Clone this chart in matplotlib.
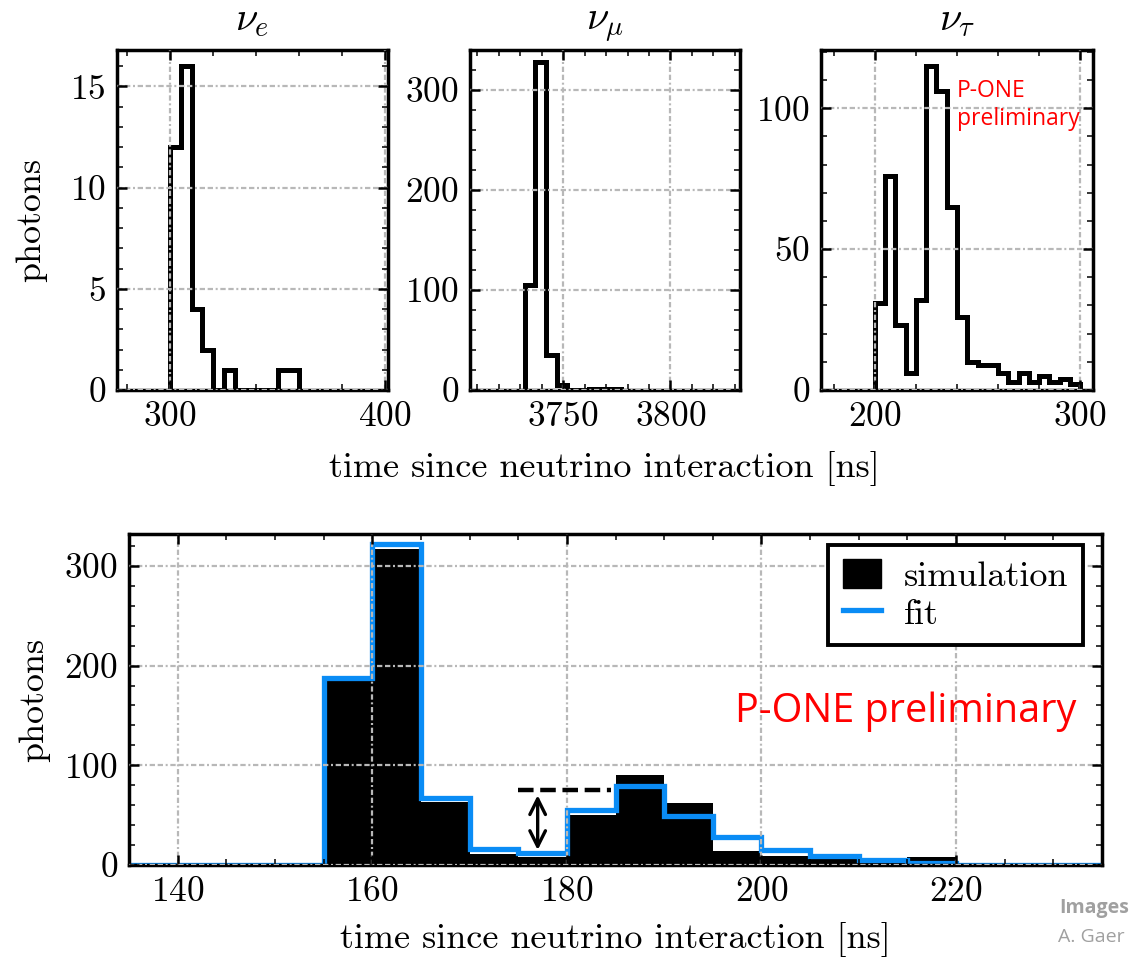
import matplotlib
matplotlib.use("Agg")
import matplotlib.pyplot as plt
from matplotlib.patches import Patch
from matplotlib.lines import Line2D
from matplotlib.ticker import MultipleLocator
import numpy as np

plt.rcParams["font.family"] = "serif"
plt.rcParams["font.serif"] = ["cmr10"]
plt.rcParams["mathtext.fontset"] = "cm"
plt.rcParams["axes.formatter.use_mathtext"] = True

# ---- per-flavour photon arrival-time histograms (5 ns bins) ----
nue_edges_start, nue_bin = 300, 5
nue_counts = [12, 16, 4, 2, 0, 1, 0, 0, 0, 0, 1, 1]

numu_edges_start, numu_bin = 3732, 5
numu_counts = [105, 328, 35, 5, 0, 0, 1, 1, 1]

nutau_edges_start, nutau_bin = 200, 5
nutau_counts = [31, 76, 23, 6, 32, 115, 106, 65, 26, 10, 9, 9, 6, 3, 6, 3, 5, 3, 4, 2]

flavour_titles = [r"$\nu_e$", r"$\nu_\mu$", r"$\nu_\tau$"]

# ---- combined waveform: simulation vs. fit ----
wave_edges_start, wave_bin = 135, 5
sim_counts = [0, 0, 0, 0, 186, 317, 63, 11, 8, 50, 90, 62, 14, 9, 6, 3, 8, 0, 0, 0]
fit_counts = [0, 0, 0, 0, 188, 322, 67, 16, 12, 55, 79, 49, 28, 15, 9, 5, 2, 0, 0, 0]

# gap marker between fit minimum and second peak
gap_level = 75
gap_low = 15
gap_high = 70
gap_x = 177
gap_line_start, gap_line_end = 175, 184.5

BLUE = "#0A8CF5"
W, H = 1132, 959
fig = plt.figure(figsize=(W / 100, H / 100), dpi=100)


def px_axes(left, right, top, bottom):
    return fig.add_axes([left / W, 1 - bottom / H, (right - left) / W, (bottom - top) / H])


def style(ax, xmaj, xmin, ymaj, ymin):
    ax.xaxis.set_major_locator(MultipleLocator(xmaj))
    ax.xaxis.set_minor_locator(MultipleLocator(xmin))
    ax.yaxis.set_major_locator(MultipleLocator(ymaj))
    ax.yaxis.set_minor_locator(MultipleLocator(ymin))
    ax.tick_params(which="both", direction="in", top=True, right=True,
                   labelsize=25.5, pad=8)
    ax.tick_params(which="major", length=7, width=1.8)
    ax.tick_params(which="minor", length=4, width=1.1)
    for s in ax.spines.values():
        s.set_linewidth(2.5)
    ax.set_axisbelow(False)
    ax.grid(True, which="major", color="#b8b8b8", lw=1.6,
            linestyle=(0, (2.4, 1.2, 2.4, 1.2, 0.9, 1.2)))


def edges(start, width, n):
    return start + width * np.arange(n + 1)


top_specs = [
    (117, 388, nue_edges_start, nue_bin, nue_counts, (275.3, 401.4), (0, 16.8), (100, 20, 5, 1)),
    (470, 740, numu_edges_start, numu_bin, numu_counts, (3706.6, 3832.4), (0, 340), (50, 10, 100, 20)),
    (821, 1093, nutau_edges_start, nutau_bin, nutau_counts, (173.7, 306.3), (0, 120.7), (100, 20, 50, 10)),
]

top_axes = []
for (l, r, e0, bw, counts, xl, yl, loc), title in zip(top_specs, flavour_titles):
    ax = px_axes(l, r, 50, 390)
    ax.stairs(counts, edges(e0, bw, len(counts)), color="black", lw=3.6, zorder=2)
    ax.set_xlim(*xl)
    ax.set_ylim(*yl)
    style(ax, *loc)
    ax.set_title(title, fontsize=29, pad=14)
    top_axes.append(ax)

top_axes[0].set_ylabel("photons", fontsize=26)
top_axes[0].yaxis.set_label_coords((47 - 117) / 271, 0.5)

top_axes[2].text((957 - 821) / 272, 0.915, "P-ONE\npreliminary", transform=top_axes[2].transAxes,
                 color="red", fontsize=16.5, family="Open Sans", ha="left", va="top",
                 linespacing=1.25, zorder=5)

fig.text(604 / W, 1 - 468 / H, "time since neutrino interaction [ns]",
         fontsize=26, ha="center", va="center")

# ---- bottom panel ----
axb = px_axes(129, 1102, 534, 865)
wedges = edges(wave_edges_start, wave_bin, len(sim_counts))
axb.stairs(sim_counts, wedges, fill=True, color="black", zorder=1.5)
axb.stairs(fit_counts, wedges, color=BLUE, lw=3.8, zorder=2)
axb.set_xlim(135, 235)
axb.set_ylim(0, 332)
style(axb, 20, 5, 100, 20)

axb.hlines(gap_level, gap_line_start, gap_line_end, colors="black", lw=3.2,
           linestyles=(0, (3.5, 1.5)), zorder=4)
axb.annotate("", xy=(gap_x, gap_low), xytext=(gap_x, gap_high),
             arrowprops=dict(arrowstyle="<->", lw=2.4, color="black",
                             mutation_scale=28, shrinkA=0, shrinkB=0), zorder=4)

axb.set_ylabel("photons", fontsize=26)
axb.yaxis.set_label_coords((50 - 129) / 973, 0.5)
axb.set_xlabel("time since neutrino interaction [ns]", fontsize=26)
axb.xaxis.set_label_coords(0.5, (865 - 922) / 331)
axb.xaxis.label.set_va("top")

handles = [Patch(facecolor="black", edgecolor="black"),
           Line2D([], [], color=BLUE, lw=3.8)]
leg = axb.legend(handles, ["simulation", "fit"], loc="upper right",
                 bbox_to_anchor=((1083 - 129) / 973, (865 - 545) / 331),
                 borderaxespad=0, fontsize=26, frameon=True, fancybox=False,
                 framealpha=1, edgecolor="black", handlelength=1.05,
                 handleheight=0.85, handletextpad=0.65, labelspacing=0.1,
                 borderpad=0.4)
leg.get_frame().set_linewidth(2.8)
leg.set_zorder(6)

axb.text((735 - 129) / 973, (865 - 722) / 331, "P-ONE preliminary",
         transform=axb.transAxes, color="red", fontsize=28.5,
         family="Open Sans", ha="left", va="baseline", zorder=5)

fig.text(1059 / W, 1 - 908 / H, "Images", color="#a0a0a0", fontsize=14,
         family="Open Sans", weight="bold", ha="left", va="center")
fig.text(1058 / W, 1 - 937 / H, "A. Gaer", color="#a0a0a0", fontsize=14,
         family="Open Sans", ha="left", va="center")

fig.savefig("out.png", dpi=100)
